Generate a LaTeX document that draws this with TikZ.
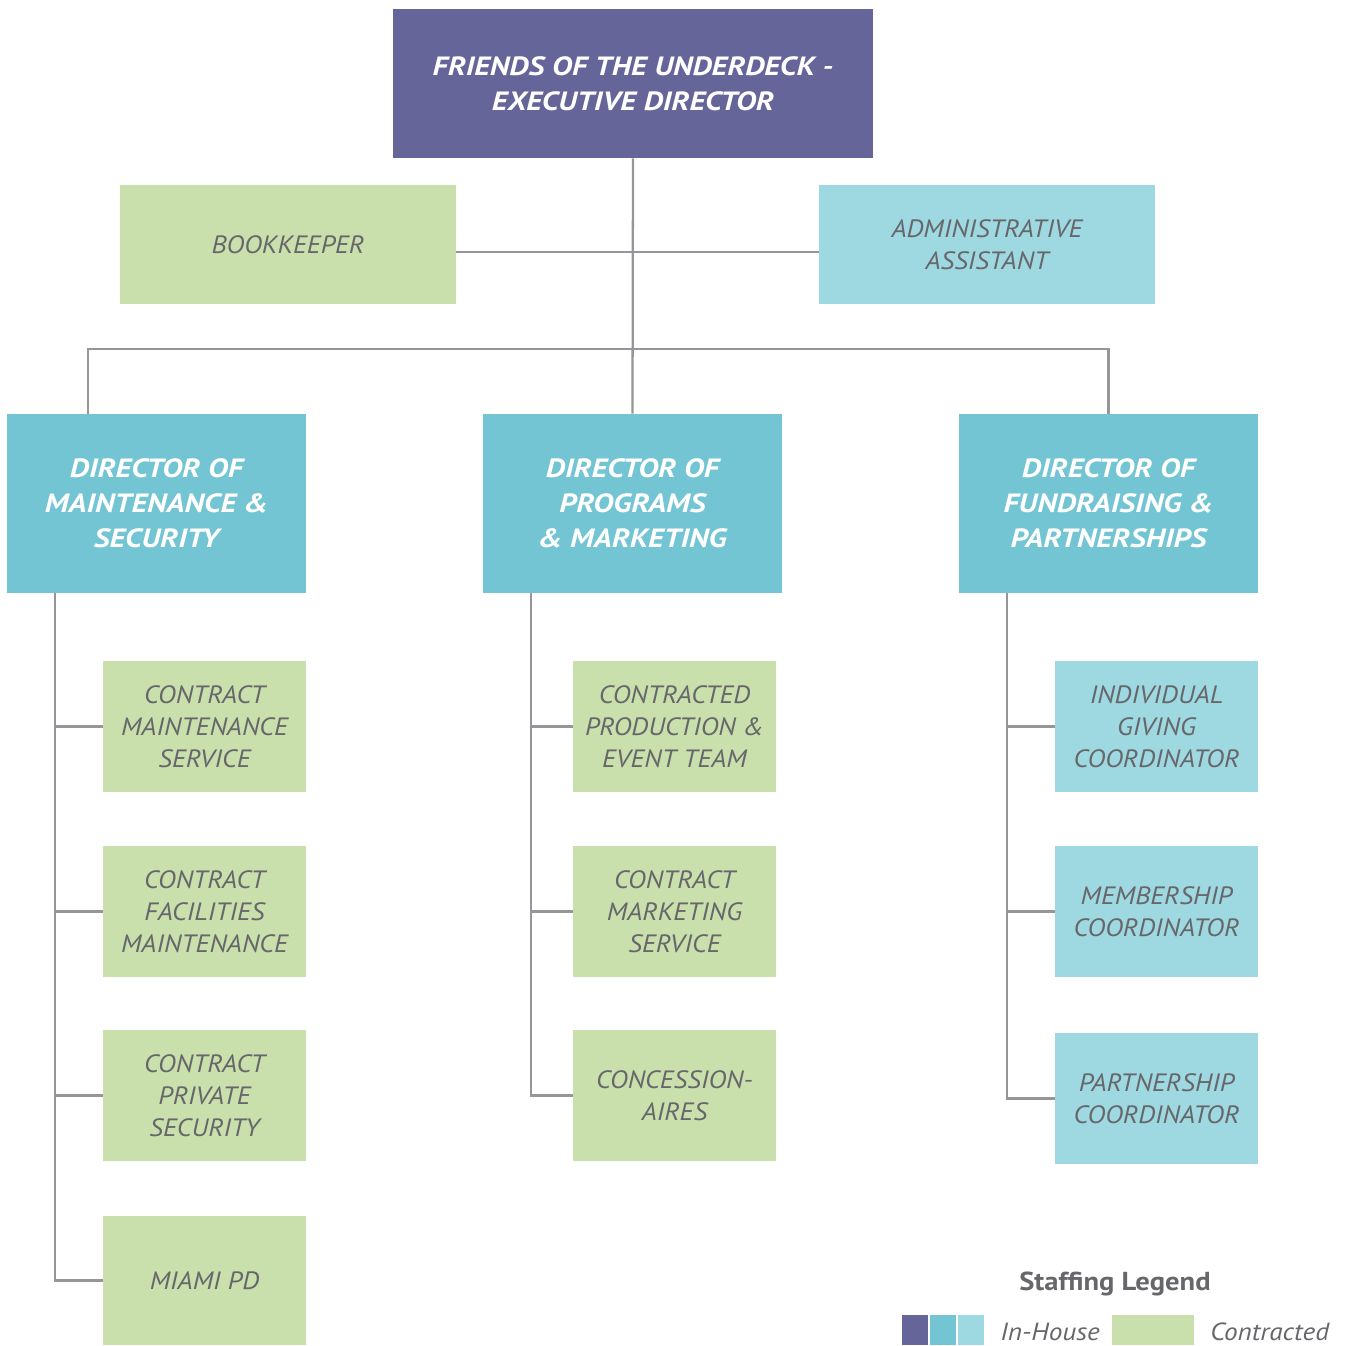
\documentclass[tikz,border=0pt]{standalone}
\usepackage{fontspec}
\setmainfont{PT Sans}
\newfontfamily\hdfont[FakeStretch=1.17]{PT Sans}
\newfontfamily\chfont[FakeStretch=1.08]{PT Sans}
\newfontfamily\lgfont[FakeStretch=1.1]{PT Sans}
\begin{document}
\begin{tikzpicture}[x=0.75pt,y=-0.75pt]
\definecolor{cpurple}{HTML}{65659A}
\definecolor{cteal}{HTML}{74C5D3}
\definecolor{clight}{HTML}{9ED8E0}
\definecolor{cgreen}{HTML}{C9E0AC}
\definecolor{ctext}{HTML}{67676B}
\definecolor{cline}{HTML}{95959A}
\tikzset{
  base/.style={inner sep=0pt, align=center, draw=none},
  topbox/.style={base, fill=cpurple, text=white, font=\hdfont\fontsize{19.8}{26.25}\selectfont\bfseries\itshape, minimum width=360pt, minimum height=111.75pt},
  dirbox/.style={base, fill=cteal, text=white, font=\hdfont\fontsize{19.8}{26.25}\selectfont\bfseries\itshape, minimum width=224.25pt, minimum height=134.25pt},
  staffbox/.style={base, text=ctext, font=\chfont\fontsize{18.8}{24}\selectfont\itshape},
  wide/.style={minimum width=252pt, minimum height=89.25pt},
  small/.style={minimum width=152.25pt, minimum height=98.25pt},
  contract/.style={staffbox, fill=cgreen},
  inhouse/.style={staffbox, fill=clight},
  conn/.style={draw=cline, line width=1.7pt},
  legtext/.style={text=ctext, inner sep=0pt}
}
\useasboundingbox (0,0) rectangle (1347,1346);

\node[topbox] (top) at (633,83.5) {FRIENDS OF THE UNDERDECK -\\EXECUTIVE DIRECTOR};
\node[contract, wide] (bk) at (288,244.5) {BOOKKEEPER};
\node[inhouse, wide] (ad) at (987,244.5) {ADMINISTRATIVE\\ASSISTANT};

\node[dirbox] (dL) at (156.5,503.5) {DIRECTOR OF\\MAINTENANCE \&\\SECURITY};
\node[dirbox] (dM) at (632.5,503.5) {DIRECTOR OF\\PROGRAMS\\\& MARKETING};
\node[dirbox] (dR) at (1108.5,503.5) {DIRECTOR OF\\FUNDRAISING \&\\PARTNERSHIPS};

\node[contract, small] (l1) at (204.5,726.5) {CONTRACT\\MAINTENANCE\\SERVICE};
\node[contract, small] (l2) at (204.5,911.5) {CONTRACT\\FACILITIES\\MAINTENANCE};
\node[contract, small] (l3) at (204.5,1095.5) {CONTRACT\\PRIVATE\\SECURITY};
\node[contract, small, minimum height=96.75pt] (l4) at (204.5,1280.5) {MIAMI PD};

\node[contract, small] (m1) at (674.5,726.5) {CONTRACTED\\PRODUCTION \&\\EVENT TEAM};
\node[contract, small] (m2) at (674.5,911.5) {CONTRACT\\MARKETING\\SERVICE};
\node[contract, small] (m3) at (674.5,1095.5) {CONCESSION-\\AIRES};

\node[inhouse, small] (r1) at (1156.5,726.5) {INDIVIDUAL\\GIVING\\COORDINATOR};
\node[inhouse, small] (r2) at (1156.5,911.5) {MEMBERSHIP\\COORDINATOR};
\node[inhouse, small] (r3) at (1156.5,1098.5) {PARTNERSHIP\\COORDINATOR};

% connectors
\coordinate (bus) at (634,349);
\draw[conn] (top.south) -- (dM.north);
\draw[conn] ([yshift=-5.6pt]bk.east) -- ([yshift=-5.6pt]ad.west);
\draw[conn] ([xshift=-51.4pt]dL.north) |- (bus) -| (dR.north);

\foreach \c in {l1,l2,l3,l4} \draw[conn] ([xshift=36pt]dL.south west) |- (\c.west);
\foreach \c in {m1,m2,m3} \draw[conn] ([xshift=36pt]dM.south west) |- (\c.west);
\foreach \c in {r1,r2,r3} \draw[conn] ([xshift=36pt]dR.south west) |- (\c.west);

% legend
\node[legtext, font=\lgfont\fontsize{19.5}{20}\selectfont\bfseries] (lgt) at (1115,1284) {Staffing Legend};
\node[base, fill=cpurple, minimum width=19.5pt, minimum height=22.5pt] (lg1) at (915,1330) {};
\node[base, fill=cteal, minimum width=19.5pt, minimum height=22.5pt] (lg2) at (943,1330) {};
\node[base, fill=clight, minimum width=19.5pt, minimum height=22.5pt] (lg3) at (971,1330) {};
\node[legtext, anchor=west, font=\lgfont\fontsize{18.6}{20}\selectfont\itshape] (lgi) at (1000,1332) {In-House};
\node[base, fill=cgreen, minimum width=61.5pt, minimum height=22.5pt] (lg4) at (1153,1330) {};
\node[legtext, anchor=west, font=\lgfont\fontsize{18.6}{20}\selectfont\itshape] (lgc) at (1210,1332) {Contracted};
\end{tikzpicture}
\end{document}
